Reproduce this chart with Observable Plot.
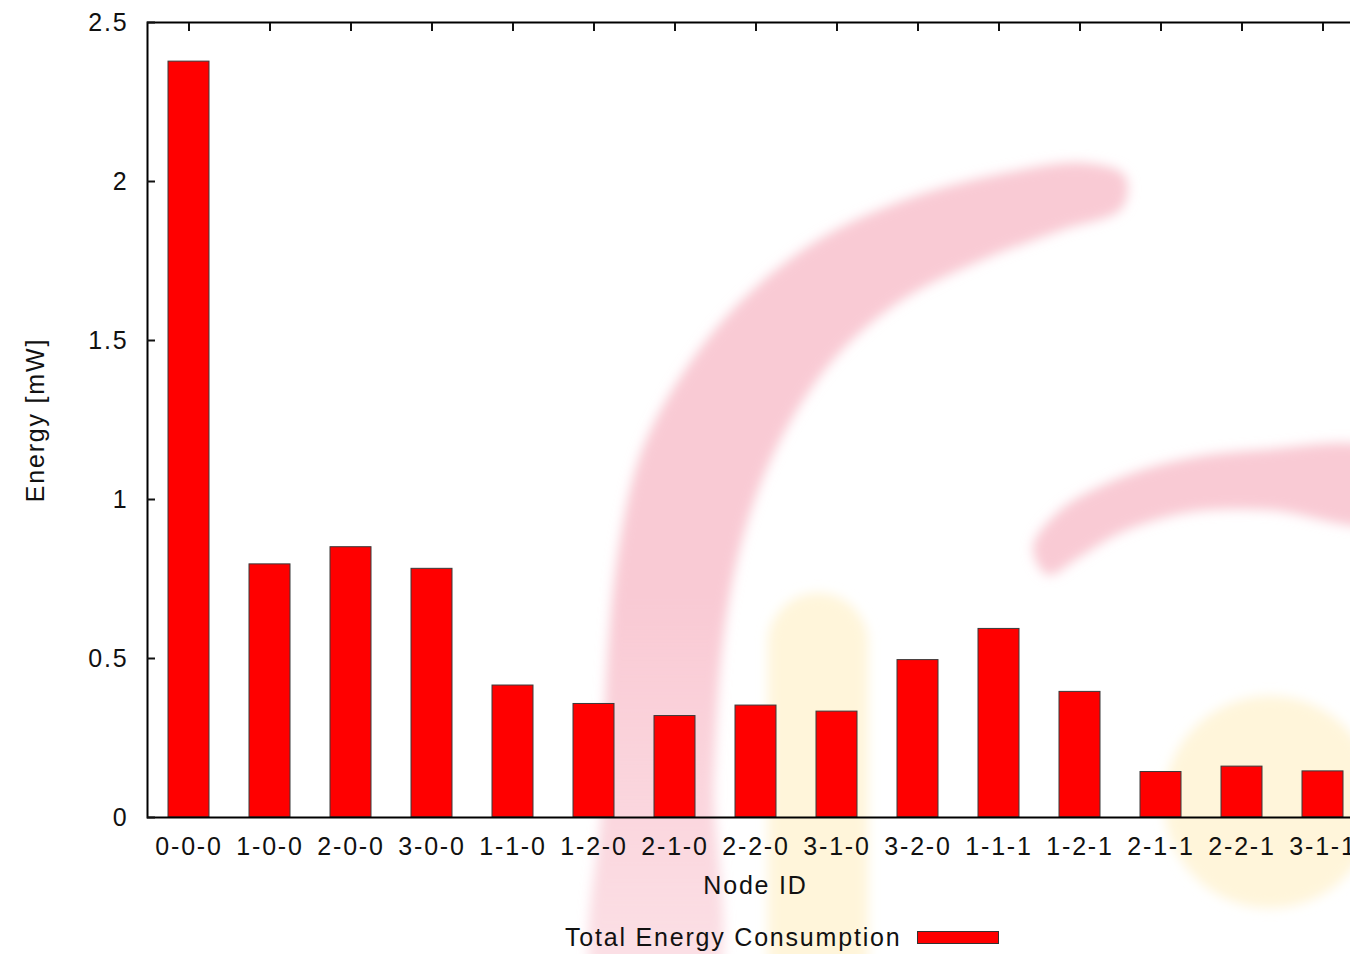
<!DOCTYPE html>
<html>
<head>
<meta charset="utf-8">
<script src="https://cdn.jsdelivr.net/npm/d3@7"></script>
<script src="https://cdn.jsdelivr.net/npm/@observablehq/plot@0.6"></script>
<style>
  html, body { margin: 0; padding: 0; background: white; overflow: hidden; }
  #wrap { position: relative; width: 1350px; height: 954px; overflow: hidden; }
  #bg { position: absolute; left: 0; top: 0; }
  #chart { position: absolute; left: 0; top: 0; width: 1400px; }
  #chart svg { max-width: none !important; }
  #legend { position: absolute; left: 565px; top: 923px; display: flex; align-items: center;
    font-family: "Liberation Sans", Arial, Helvetica, sans-serif; font-size: 25px; letter-spacing: 1.8px; color: #111; }
  #legend .sw { width: 80px; height: 11px; background: #ff0000; border: 1px solid #333; margin-left: 16px; }
</style>
</head>
<body>
<div id="wrap">
  <svg id="bg" width="1350" height="954" xmlns="http://www.w3.org/2000/svg">
    <defs>
      <filter id="blur" x="-20%" y="-20%" width="140%" height="140%"><feGaussianBlur stdDeviation="6"/></filter>
      <linearGradient id="pinkfade" gradientUnits="userSpaceOnUse" x1="0" y1="954" x2="0" y2="600">
        <stop offset="0" stop-color="#f9cad4" stop-opacity="0.6"/>
        <stop offset="1" stop-color="#f9cad4" stop-opacity="1"/>
      </linearGradient>
    </defs>
    <g filter="url(#blur)" id="wm"></g>
  </svg>
  <div id="chart"></div>
  <div id="legend"><span>Total Energy Consumption</span><span class="sw"></span></div>
</div>
<script>
const nodeIds = ["0-0-0","1-0-0","2-0-0","3-0-0","1-1-0","1-2-0","2-1-0","2-2-0","3-1-0","3-2-0","1-1-1","1-2-1","2-1-1","2-2-1","3-1-1"];
const energy  = [2.377, 0.796, 0.850, 0.782, 0.415, 0.357, 0.319, 0.352, 0.333, 0.495, 0.593, 0.395, 0.143, 0.160, 0.145];
const yTicks = [0, 0.5, 1, 1.5, 2, 2.5];
const yLabel = "Energy [mW]";
const xLabel = "Node ID";

// faded background watermark (decoration only, not data)
const wm = d3.select("#wm");
const closed = d3.line().curve(d3.curveCatmullRomClosed);
wm.append("rect").attr("x", 768).attr("y", 593).attr("width", 100).attr("height", 420).attr("rx", 50).attr("fill", "#fff5da");
wm.append("circle").attr("cx", 1270).attr("cy", 802).attr("r", 106).attr("fill", "#fff5da");
const arcShape = [
  [600,990],[602,800],[608,650],[620,540],[642,450],[685,370],[742,300],[818,240],[910,198],[1010,172],[1085,163],[1125,176],
  [1122,208],[1062,230],[982,260],[902,300],[842,350],[797,410],[762,480],[737,560],[722,650],[714,780],[710,990]
];
wm.append("path").attr("d", closed(arcShape)).attr("fill", "url(#pinkfade)");
const band2 = [
  [1033,548],[1058,512],[1110,482],[1180,460],[1260,450],[1380,452],
  [1380,522],[1270,510],[1190,512],[1122,532],[1078,558],[1048,575]
];
wm.append("path").attr("d", closed(band2)).attr("fill", "#f9cad4");

const data = nodeIds.map((id, i) => ({id, value: energy[i]}));

const chart = Plot.plot({
  width: 1400,
  height: 907,
  marginLeft: 147,
  marginRight: 37,
  marginTop: 22,
  marginBottom: 90,
  style: {
    fontFamily: '"Liberation Sans", Arial, Helvetica, sans-serif',
    fontSize: "25px",
    letterSpacing: "1.8px",
    background: "transparent",
    color: "#111",
    overflow: "visible",
    maxWidth: "none"
  },
  x: { type: "band", domain: nodeIds, paddingInner: 0.5, paddingOuter: 0.25, label: null },
  y: { domain: [0, 2.5], label: null },
  marks: [
    Plot.barY(data, { x: "id", y: "value", fill: "#ff0000", stroke: "#3a3a3a", strokeWidth: 1 }),
    Plot.frame({ stroke: "black", strokeWidth: 2 }),
    Plot.axisY({ ticks: yTicks, tickSize: -8, tickPadding: 27, strokeWidth: 2, tickFormat: d => String(d) }),
    Plot.axisX({ anchor: "top", tickSize: -8, strokeWidth: 2, tickFormat: () => "" }),
    Plot.axisX({ anchor: "bottom", tickSize: 0, tickPadding: 20 }),
    Plot.text([yLabel], { text: d => d, frameAnchor: "left", dx: -112, rotate: -90, textAnchor: "middle" }),
    Plot.text([xLabel], { text: d => d, frameAnchor: "bottom", dy: 76 })
  ]
});
document.getElementById("chart").appendChild(chart);
</script>
</body>
</html>
